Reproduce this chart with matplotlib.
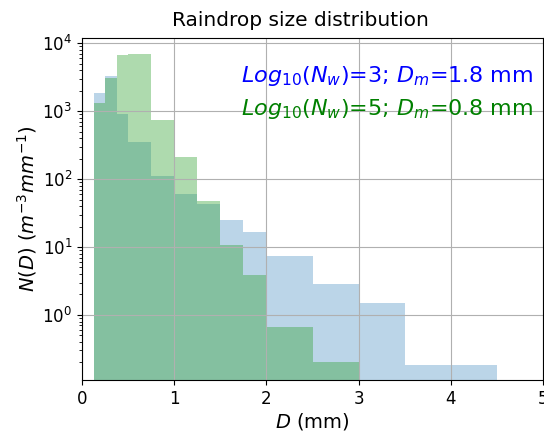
import numpy as np
import matplotlib
matplotlib.use("Agg")
import matplotlib.pyplot as plt

# bin edges (mm)
bin_edges = [0.125, 0.25, 0.375, 0.5, 0.75, 1.0, 1.25, 1.5, 1.75, 2.0, 2.5, 3.0, 3.5, 4.5]
# N(D) for Log10(Nw)=3, Dm=1.8 mm
nd_blue = [1860, 3300, 910, 355, 112, 60, 42.5, 25, 16.5, 7.4, 2.83, 1.52, 0.184]
# N(D) for Log10(Nw)=5, Dm=0.8 mm
nd_green = [1320, 3100, 6800, 7000, 755, 213, 47.6, 10.7, 3.9, 0.67, 0.206, 0, 0]

label_blue = r"$Log_{10}(N_w)$=3; $D_m$=1.8 mm"
label_green = r"$Log_{10}(N_w)$=5; $D_m$=0.8 mm"

fig = plt.figure(figsize=(5.44, 4.34), dpi=100)
ax = fig.add_axes([82/544, 1-380/434, 461/544, 342/434])

centers = 0.5*(np.array(bin_edges[:-1]) + np.array(bin_edges[1:]))
ax.hist(centers, bins=bin_edges, weights=nd_blue, color='tab:blue', alpha=0.3, log=True)
ax.hist(centers, bins=bin_edges, weights=nd_green, color='tab:green', alpha=0.38, log=True)

ax.set_yscale('log')
ax.set_xlim(0, 5)
ax.set_ylim(0.11, 1.2e4)
ax.grid(True)

ax.set_title("Raindrop size distribution", fontsize=14.5, x=0.473, pad=9)
ax.set_xlabel(r"$D$ (mm)", fontsize=14, labelpad=2)
ax.set_ylabel(r"$N(D)$ $(m^{-3} mm^{-1})$", fontsize=14, labelpad=2)
ax.tick_params(labelsize=12)

ax.text(0.978, 0.871, label_blue, color='blue', fontsize=16, ha='right', va='baseline', transform=ax.transAxes)
ax.text(0.978, 0.775, label_green, color='green', fontsize=16, ha='right', va='baseline', transform=ax.transAxes)

fig.savefig("out.png", dpi=100)
